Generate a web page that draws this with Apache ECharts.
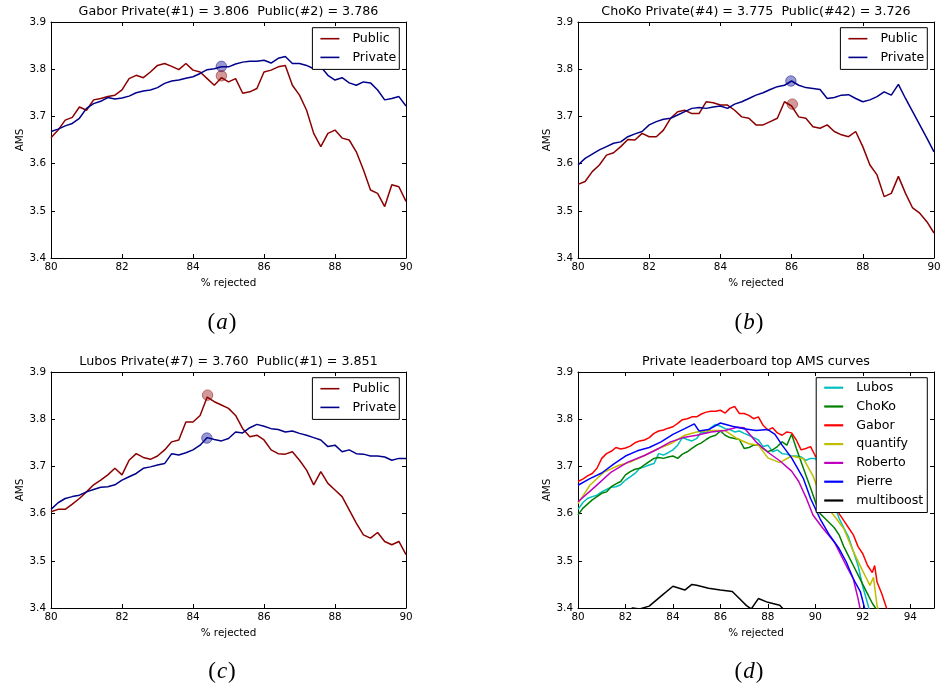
<!DOCTYPE html>
<html><head><meta charset="utf-8">
<script src="https://cdn.jsdelivr.net/npm/echarts@6/dist/echarts.min.js"></script>
<style>html,body{margin:0;padding:0;background:#fff}#c{width:948px;height:699px}</style>
</head><body><div id="c"></div>
<script>
// ---------- data ----------
const xMain = [80.0,80.2,80.4,80.6,80.8,81.0,81.2,81.4,81.6,81.8,82.0,82.2,82.4,82.6,82.8,83.0,83.2,83.4,83.6,83.8,84.0,84.2,84.4,84.6,84.8,85.0,85.2,85.4,85.6,85.8,86.0,86.2,86.4,86.6,86.8,87.0,87.2,87.4,87.6,87.8,88.0,88.2,88.4,88.6,88.8,89.0,89.2,89.4,89.6,89.8,90.0];

const gaborPublic = [3.655,3.671,3.692,3.698,3.720,3.713,3.735,3.738,3.742,3.745,3.756,3.780,3.787,3.782,3.794,3.808,3.812,3.806,3.799,3.812,3.798,3.794,3.780,3.766,3.782,3.773,3.780,3.749,3.752,3.759,3.794,3.798,3.805,3.808,3.766,3.745,3.713,3.664,3.636,3.664,3.671,3.654,3.650,3.625,3.587,3.544,3.537,3.509,3.555,3.551,3.520];
const gaborPrivate = [3.668,3.673,3.680,3.685,3.696,3.717,3.727,3.732,3.740,3.737,3.739,3.743,3.750,3.754,3.756,3.761,3.770,3.775,3.777,3.781,3.784,3.791,3.799,3.801,3.805,3.805,3.811,3.815,3.817,3.817,3.819,3.813,3.823,3.827,3.812,3.812,3.808,3.801,3.805,3.787,3.777,3.782,3.771,3.766,3.773,3.771,3.756,3.735,3.738,3.742,3.722];

const chokoPublic = [3.556,3.562,3.583,3.597,3.618,3.623,3.636,3.651,3.650,3.664,3.657,3.657,3.671,3.696,3.710,3.713,3.706,3.706,3.731,3.729,3.724,3.724,3.713,3.699,3.696,3.682,3.682,3.689,3.696,3.731,3.722,3.699,3.696,3.678,3.675,3.682,3.668,3.661,3.657,3.668,3.636,3.597,3.576,3.530,3.537,3.573,3.537,3.506,3.495,3.477,3.453];
const chokoPrivate = [3.597,3.611,3.620,3.629,3.636,3.643,3.646,3.657,3.663,3.668,3.682,3.689,3.694,3.696,3.703,3.710,3.717,3.719,3.717,3.720,3.722,3.717,3.726,3.731,3.738,3.745,3.750,3.757,3.763,3.766,3.775,3.766,3.761,3.759,3.757,3.738,3.740,3.745,3.746,3.738,3.731,3.735,3.742,3.752,3.745,3.768,3.738,3.710,3.682,3.654,3.625];

const lubosPublic = [3.604,3.609,3.609,3.620,3.632,3.646,3.661,3.671,3.682,3.696,3.682,3.713,3.727,3.719,3.715,3.722,3.735,3.752,3.756,3.794,3.794,3.808,3.847,3.837,3.830,3.823,3.808,3.780,3.763,3.766,3.756,3.735,3.727,3.726,3.731,3.713,3.692,3.661,3.689,3.664,3.650,3.636,3.608,3.580,3.555,3.548,3.560,3.541,3.534,3.541,3.513];
const lubosPrivate = [3.609,3.623,3.632,3.636,3.639,3.646,3.651,3.656,3.657,3.661,3.671,3.678,3.685,3.696,3.699,3.703,3.706,3.727,3.724,3.729,3.735,3.745,3.761,3.757,3.754,3.759,3.773,3.771,3.782,3.789,3.785,3.780,3.778,3.773,3.775,3.770,3.766,3.761,3.756,3.742,3.745,3.731,3.735,3.727,3.726,3.722,3.722,3.720,3.713,3.717,3.717];

// selected-submission markers [x, AMS]
const markA = {pub:[84.8,3.786], priv:[84.8,3.806]};
const markB = {pub:[86.02,3.726], priv:[85.98,3.775]};
const markC = {pub:[84.41,3.851], priv:[84.39,3.760]};

// panel (d): tails beyond 90 % rejected for curves shared with (a)-(c)
const xGaborExt = [90.2,90.4,90.6,90.8,91.0,91.2,91.4,91.6,91.8,92.0,92.2,92.4,92.5,92.6,92.8,93.0,93.1];
const gaborExt  = [3.710,3.690,3.670,3.640,3.600,3.585,3.570,3.555,3.530,3.515,3.490,3.475,3.490,3.455,3.430,3.400,3.390];
const xLubosExt = [90.2,90.4,90.6,90.8,91.0,91.2,91.4,91.6,91.8,92.0,92.2,92.3];
const lubosExt  = [3.700,3.680,3.650,3.620,3.590,3.570,3.550,3.520,3.490,3.445,3.410,3.390];
const xChokoExt = [90.2,90.4,90.6,90.8,91.0,91.2,91.4,91.6,91.8,92.0,92.2,92.4,92.6];
const chokoExt  = [3.600,3.590,3.580,3.570,3.555,3.530,3.510,3.490,3.470,3.450,3.430,3.410,3.395];

// panel (d): other curves
const xPierre = [80.0,80.5,81.0,81.5,82.0,82.5,83.0,83.5,84.0,84.5,84.9,85.1,85.5,86.0,86.5,87.0,87.5,88.0,88.3,88.6,89.0,89.5,89.8,90.2,90.6,91.0,91.3,91.6,91.9,92.1];
const pierre  = [3.660,3.674,3.686,3.705,3.722,3.733,3.740,3.752,3.768,3.780,3.790,3.775,3.778,3.792,3.785,3.780,3.776,3.778,3.768,3.745,3.718,3.674,3.632,3.589,3.554,3.526,3.498,3.462,3.434,3.395];
const xRoberto = [80.0,80.7,81.4,82.1,82.8,83.4,83.9,84.5,85.0,85.6,86.2,86.7,87.0,87.5,88.0,88.5,89.0,89.3,89.6,89.9,90.3,90.8,91.0,91.3,91.6,91.8,91.9];
const roberto  = [3.625,3.656,3.688,3.709,3.723,3.738,3.752,3.762,3.766,3.773,3.776,3.783,3.782,3.752,3.730,3.712,3.690,3.668,3.635,3.597,3.570,3.540,3.520,3.490,3.462,3.420,3.395];
const xQuantify = [80.0,80.5,81.1,81.7,82.2,82.8,83.4,83.9,84.5,85.0,85.6,86.2,86.7,87.2,87.6,88.0,88.5,89.0,89.5,89.9,90.3,90.8,91.2,91.6,92.0,92.3,92.45,92.6,92.7];
const quantify  = [3.621,3.660,3.688,3.702,3.709,3.723,3.738,3.748,3.766,3.773,3.776,3.776,3.759,3.748,3.745,3.718,3.708,3.722,3.716,3.680,3.625,3.595,3.568,3.520,3.478,3.448,3.465,3.405,3.390];
const xMulti = [82.0,82.3,82.6,83.0,83.5,84.0,84.5,84.8,85.0,85.5,86.0,86.5,86.8,87.1,87.3,87.6,88.0,88.5,88.7];
const multiboost = [3.390,3.400,3.398,3.404,3.425,3.446,3.438,3.450,3.448,3.442,3.438,3.435,3.420,3.405,3.398,3.420,3.412,3.406,3.395];

const titles = ['Gabor Private(#1) = 3.806  Public(#2) = 3.786','ChoKo Private(#4) = 3.775  Public(#42) = 3.726','Lubos Private(#7) = 3.760  Public(#1) = 3.851','Private leaderboard top AMS curves'];
const captions = ['a','b','c','d'];
const dNames = ['Lubos','ChoKo','Gabor','quantify','Roberto','Pierre','multiboost'];
const dColors = ['#00bfbf','#008000','#ff0000','#bfbf00','#bf00bf','#0000ff','#000000'];

// ---------- chart ----------
const FONT = 'DejaVu Sans';
const pair = (xs, ys) => xs.map((x, i) => [x, ys[i]]);
const grids = [
  {left:51, top:22, width:355, height:236},
  {left:578, top:22, width:356, height:236},
  {left:51, top:372, width:355, height:236},
  {left:578, top:372, width:356, height:236}
].map(g => Object.assign({show:false, containLabel:false, outerBoundsMode:'none'}, g));
const xMaxes = [90,90,90,95];
const xAxis = [], yAxis = [];
const black = {color:'#000', width:1};
grids.forEach((g, i) => {
  xAxis.push({gridIndex:i, type:'value', min:80, max:xMaxes[i], interval:2, position:'bottom',
    axisLine:{show:true, onZero:false, lineStyle:black},
    axisTick:{show:true, inside:true, length:4, lineStyle:black},
    axisLabel:{color:'#000', fontSize:10.4, fontFamily:FONT, margin:4, showMinLabel:true, showMaxLabel: i !== 3},
    splitLine:{show:false},
    name:'% rejected', nameLocation:'middle', nameGap:20,
    nameTextStyle:{color:'#000', fontSize:10.4, fontFamily:FONT}});
  xAxis.push({gridIndex:i, type:'value', min:80, max:xMaxes[i], interval:2, position:'top',
    axisLine:{show:true, onZero:false, lineStyle:black},
    axisTick:{show:true, inside:true, length:4, lineStyle:black},
    axisLabel:{show:false}, splitLine:{show:false}});
  yAxis.push({gridIndex:i, type:'value', min:3.4, max:3.9, interval:0.1, position:'left',
    axisLine:{show:true, onZero:false, lineStyle:black},
    axisTick:{show:true, inside:true, length:4, lineStyle:black},
    axisLabel:{color:'#000', fontSize:10.4, fontFamily:FONT, margin:5, showMinLabel:true, showMaxLabel:true,
      formatter: v => v.toFixed(1)},
    splitLine:{show:false},
    name:'AMS', nameLocation:'middle', nameGap:26, nameRotate:90,
    nameTextStyle:{color:'#000', fontSize:10.4, fontFamily:FONT}});
  yAxis.push({gridIndex:i, type:'value', min:3.4, max:3.9, interval:0.1, position:'right',
    axisLine:{show:true, onZero:false, lineStyle:black},
    axisTick:{show:true, inside:true, length:4, lineStyle:black},
    axisLabel:{show:false}, splitLine:{show:false}});
});

function line(gi, name, color, data, width) {
  return {type:'line', name, xAxisIndex:2*gi, yAxisIndex:2*gi, data,
    showSymbol:false, symbol:'none', clip:true, animation:false, z:2,
    lineStyle:{color, width: width || 1.5}, itemStyle:{color}, emphasis:{disabled:true}};
}
function dot(gi, pt, rgb) {
  return {type:'scatter', xAxisIndex:2*gi, yAxisIndex:2*gi, data:[pt], symbolSize:10.5,
    animation:false, silent:true, z:3,
    itemStyle:{color:'rgba(' + rgb + ',0.5)', borderColor:'rgba(' + rgb + ',0.6)', borderWidth:1}};
}
const RED = '#8b0000', BLUE = '#00008b';
const RED_RGB = '139,0,0', BLUE_RGB = '0,0,139';
const series = [
  line(0, 'Public', RED, pair(xMain, gaborPublic)),
  line(0, 'Private', BLUE, pair(xMain, gaborPrivate)),
  dot(0, markA.priv, BLUE_RGB), dot(0, markA.pub, RED_RGB),
  line(1, 'Public', RED, pair(xMain, chokoPublic)),
  line(1, 'Private', BLUE, pair(xMain, chokoPrivate)),
  dot(1, markB.priv, BLUE_RGB), dot(1, markB.pub, RED_RGB),
  line(2, 'Public', RED, pair(xMain, lubosPublic)),
  line(2, 'Private', BLUE, pair(xMain, lubosPrivate)),
  dot(2, markC.priv, BLUE_RGB), dot(2, markC.pub, RED_RGB),
  line(3, 'Lubos', dColors[0], pair(xMain.concat(xLubosExt), lubosPrivate.concat(lubosExt))),
  line(3, 'ChoKo', dColors[1], pair(xMain.concat(xChokoExt), chokoPrivate.concat(chokoExt))),
  line(3, 'Gabor', dColors[2], pair(xMain.concat(xGaborExt), gaborPrivate.concat(gaborExt))),
  line(3, 'quantify', dColors[3], pair(xQuantify, quantify)),
  line(3, 'Roberto', dColors[4], pair(xRoberto, roberto)),
  line(3, 'Pierre', dColors[5], pair(xPierre, pierre)),
  line(3, 'multiboost', dColors[6], pair(xMulti, multiboost))
];

const legendBase = {orient:'vertical', icon:'rect', itemWidth:19, itemHeight:1.6, backgroundColor:'#fff',
  borderColor:'#000', borderWidth:1, borderRadius:0, selectedMode:false, z:10,
  itemStyle:{borderWidth:0},
  textStyle:{color:'#000', fontSize:12.6, fontFamily:FONT, lineHeight:14, padding:[0,0,0,8]}};
const legend = [
  Object.assign({}, legendBase, {data:['Public','Private'], right:548.7, top:27.7, itemGap:4.7, padding:[4,3,5,8]}),
  Object.assign({}, legendBase, {data:['Public','Private'], right:20.7, top:27.7, itemGap:4.7, padding:[4,3,5,8]}),
  Object.assign({}, legendBase, {data:['Public','Private'], right:548.7, top:377.7, itemGap:4.7, padding:[4,3,5,8]}),
  Object.assign({}, legendBase, {data:dNames, right:20.7, top:377.7, itemGap:4.8, itemHeight:2.2, padding:[3,4,5,8]})
];

const titleCenters = [[228.5,5],[756,5],[228.5,355],[756,355]];
const title = titles.map((t, i) => ({text:t, left:titleCenters[i][0], top:titleCenters[i][1], textAlign:'center', padding:0,
  textStyle:{color:'#000', fontSize:12.7, fontWeight:'normal', fontFamily:FONT}}));

const capPos = [[222,323],[749,323],[222,672],[749,672]];
const graphic = captions.map((c, i) => ({type:'text', x:capPos[i][0], y:capPos[i][1], silent:true,
  style:{text:'{p|(}{i|' + c + '}{p|)}', fill:'#000', align:'center', verticalAlign:'middle',
    rich:{p:{fontFamily:'Liberation Serif', fontSize:23, fill:'#000'},
          i:{fontFamily:'Liberation Serif', fontStyle:'italic', fontSize:23, fill:'#000', padding:[0,1,0,1]}}}}));

const chart = echarts.init(document.getElementById('c'), null, {renderer:'canvas'});
chart.setOption({backgroundColor:'#fff', animation:false, grid:grids, xAxis, yAxis, series, legend, title, graphic, tooltip:{show:false}});
</script></body></html>
